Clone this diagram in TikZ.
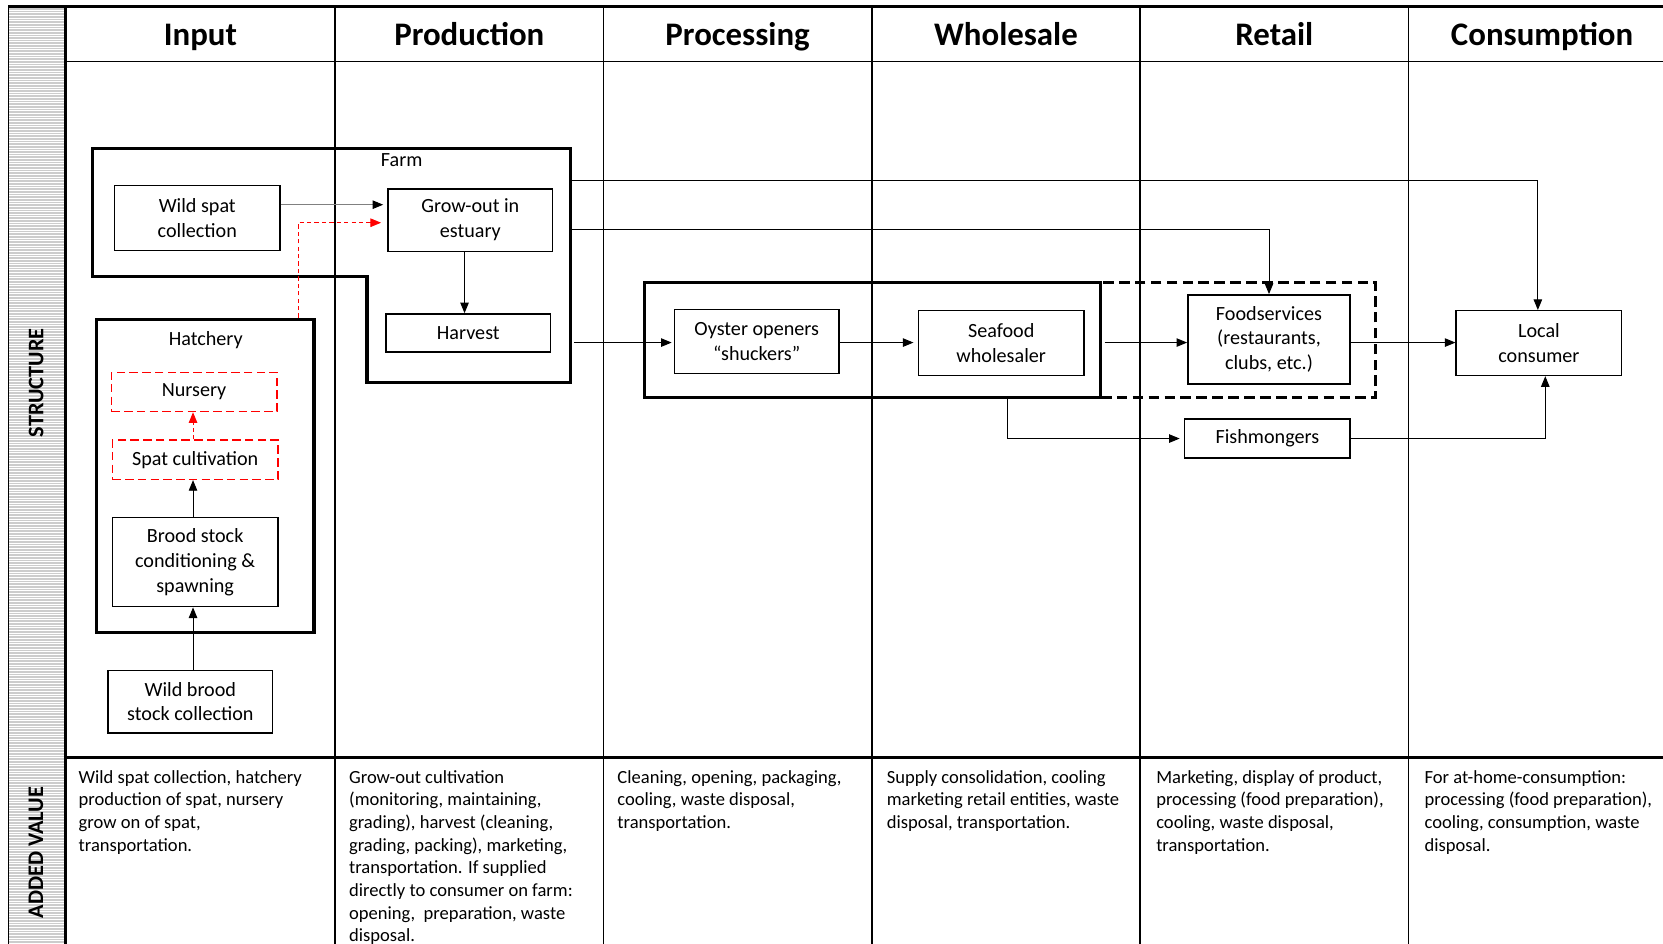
\documentclass[tikz,border=0pt]{standalone}
\usepackage{fontspec}
\setmainfont{Carlito}
\usetikzlibrary{arrows.meta}
\begin{document}
\begin{tikzpicture}[x=1pt,y=-1pt,
  box/.style={draw, line width=1.4pt, inner sep=0pt, align=center,
    font=\fontsize{19}{23.5}\selectfont},
  redbox/.style={box, draw=red, dash pattern=on 8pt off 4pt},
  frame/.style={draw, line width=3pt, inner sep=0pt},
  arr/.style={line width=0.9pt, -{Triangle[length=10pt,width=8pt]}},
  redarr/.style={arr, red, dash pattern=on 4pt off 3pt},
  head/.style={anchor=base, inner sep=0pt, font=\fontsize{31}{36}\selectfont\bfseries},
  lbl/.style={inner sep=0pt, font=\fontsize{19}{23.5}\selectfont},
  note/.style={anchor=north west, align=left, inner sep=0pt,
    font=\fontsize{17.5}{21.4}\selectfont},
  side/.style={rotate=90, inner sep=0pt, font=\fontsize{21}{24}\selectfont\bfseries}
]
\useasboundingbox (0,0) rectangle (1568,890);

% striped side strip
\fill[gray!40] (8,6) rectangle (62,890);
\foreach \y in {7,9.5,...,890} \draw[white, line width=0.8pt] (8,\y) -- (62,\y);
\draw[line width=1pt] (8,890) -- (8,6);

% table grid
\draw[line width=2.5pt] (8,6) -- (1568,6);
\draw[line width=3pt] (62,6) -- (62,890);
\foreach \x in {316,569,822,1075,1328} \draw[line width=1.8pt] (\x,6) -- (\x,890);
\draw[line width=1.8pt] (62,58) -- (1568,58);
\draw[line width=3pt] (62,714) -- (1568,714);

% column headings
\node[head] (hInput) at (189,43) {Input};
\node[head] (hProd) at (442.5,43) {Production};
\node[head] (hProc) at (695.5,43) {Processing};
\node[head] (hWhole) at (948.5,43) {Wholesale};
\node[head] (hRetail) at (1201.5,43) {Retail};
\node[head] (hCons) at (1454,43) {Consumption};

% row headings
\node[side] (sStruct) at (34,361) {STRUCTURE};
\node[side] (sAdded) at (34,804) {ADDED VALUE};

% farm outline (input and production parts)
\draw[line width=3pt] (87,140) -- (538,140) -- (538,361) -- (346,361)
  -- (346,261) -- (87,261) -- cycle;
\node[inner sep=0pt, minimum width=192pt, minimum height=221pt] (farm) at (442,250.5) {};
\node[lbl, anchor=west] (farmlbl) at (359,151) {Farm};

% hatchery
\node[frame, minimum width=205pt, minimum height=295pt] (hatchery) at (193.5,448.5) {};
\node[lbl] (hatchlbl) at (194,321) {Hatchery};

% processing / wholesale group and retail group
\node[draw, line width=3pt, dash pattern=on 10pt off 5pt, inner sep=0pt,
  minimum width=259pt, minimum height=109pt] (retailgrp) at (1167.5,320.5) {};
\node[frame, minimum width=430pt, minimum height=109pt] (procbox) at (823,320.5) {};

% stages
\node[box, minimum width=156pt, minimum height=61pt] (wildspat) at (186,205.5) {Wild spat\\collection};
\node[box, minimum width=155pt, minimum height=59pt] (growout) at (443.5,207.5) {Grow-out in\\estuary};
\node[box, minimum width=155pt, minimum height=36pt] (harvest) at (441.5,314) {Harvest};
\node[redbox, minimum width=156pt, minimum height=37pt] (nursery) at (183,369.5) {Nursery};
\node[redbox, minimum width=156pt, minimum height=37pt] (spatcult) at (184,433.5) {Spat cultivation};
\node[box, minimum width=156pt, minimum height=84pt] (brood) at (184,530) {Brood stock\\conditioning \&\\spawning};
\node[box, minimum width=155pt, minimum height=59pt] (wildbrood) at (179.5,661.5) {Wild brood\\stock collection};
\node[box, minimum width=155pt, minimum height=60pt] (openers) at (713.5,322) {Oyster openers\\“shuckers”};
\node[box, minimum width=156pt, minimum height=61pt] (seafood) at (944,323.5) {Seafood\\wholesaler};
\node[box, minimum width=153pt, minimum height=84pt] (foodserv) at (1196.5,320) {Foodservices\\(restaurants,\\clubs, etc.)};
\node[box, minimum width=156pt, minimum height=61pt] (local) at (1451,323.5) {Local\\consumer};
\node[box, minimum width=156pt, minimum height=37pt] (fish) at (1195,413.5) {Fishmongers};

% flows
\draw[arr, draw=gray, -{Triangle[length=10pt,width=8pt,color=black]}]
  (wildspat.east |- 0,193) -- ([xshift=-4pt]growout.west |- 0,193);
\draw[redarr] (hatchery.north -| 281,0) |- ([xshift=-6pt]growout.west |- 0,210);
\draw[arr] (wildbrood.north -| 182,0) -- (brood.south -| 182,0);
\draw[arr] (brood.north -| 182,0) -- (spatcult.south -| 182,0);
\draw[redarr] (spatcult.north -| 182,0) -- (nursery.south -| 182,0);
\draw[arr] (growout.south -| 438,0) -- (harvest.north -| 438,0);
\draw[arr] (farm.east |- 0,170) -| ([xshift=-1pt]local.north);
\draw[arr] (farm.east |- 0,216) -| (foodserv.north);
\draw[arr] ([xshift=3pt]farm.east |- 0,323) -- ([xshift=-2pt]openers.west |- 0,323);
\draw[arr] (openers.east |- 0,323) -- ([xshift=-4pt]seafood.west |- 0,323);
\draw[arr] ([xshift=2pt]procbox.east |- 0,323) -- (foodserv.west |- 0,323);
\draw[arr] (foodserv.east |- 0,323) -- (local.west |- 0,323);
\draw[arr] (procbox.south -| 950,0) |- ([xshift=-4pt]fish.west);
\draw[arr] (fish.east) -| (local.south -| 1457,0);

% added value descriptions
\node[note] (vInput) at (74,726) {Wild spat collection, hatchery\\production of spat, nursery\\grow on of spat,\\transportation.};
\node[note] (vProd) at (329,726) {Grow-out cultivation\\(monitoring, maintaining,\\grading), harvest (cleaning,\\grading, packing), marketing,\\transportation. If supplied\\directly to consumer on farm:\\opening,\ \ preparation, waste\\disposal.};
\node[note] (vProc) at (582,726) {Cleaning, opening, packaging,\\cooling, waste disposal,\\transportation.};
\node[note] (vWhole) at (836,726) {Supply consolidation, cooling\\marketing retail entities, waste\\disposal, transportation.};
\node[note] (vRetail) at (1090,726) {Marketing, display of product,\\processing (food preparation),\\cooling, waste disposal,\\transportation.};
\node[note] (vCons) at (1343,726) {For at-home-consumption:\\processing (food preparation),\\cooling, consumption, waste\\disposal.};
\end{tikzpicture}
\end{document}
